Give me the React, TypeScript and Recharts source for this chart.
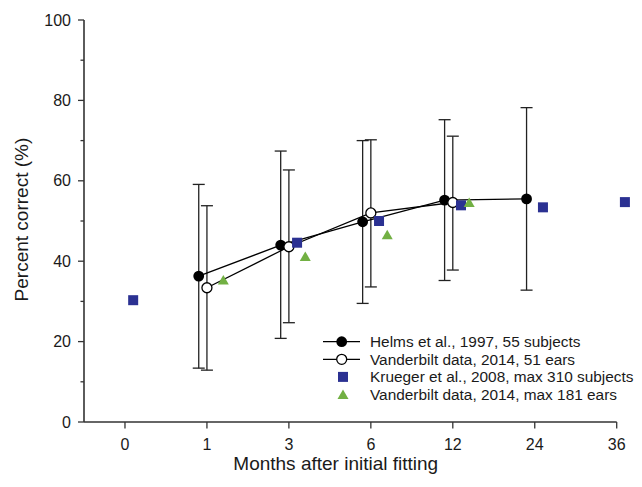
import { ScatterChart, Scatter, XAxis, YAxis, ErrorBar, Legend, Label, ReferenceLine } from 'recharts'

const monthLabels = ['0', '1', '3', '6', '12', '24', '36']

// Helms et al., 1997 (index into monthLabels)
const helmsIdx = [1, 2, 3, 4, 5]
const helmsMean = [36.3, 44.0, 49.8, 55.2, 55.5]
const helmsLow = [13.4, 20.8, 29.5, 35.2, 32.8]
const helmsHigh = [59.1, 67.4, 70.0, 75.2, 78.2]

// Vanderbilt 2014, 51 ears
const vandIdx = [1, 2, 3, 4]
const vandMean = [33.4, 43.6, 52.0, 54.6]
const vandLow = [12.9, 24.7, 33.6, 37.8]
const vandHigh = [53.8, 62.7, 70.2, 71.1]

// Krueger et al., 2008
const kruegerIdx = [0, 2, 3, 4, 5, 6]
const kruegerMean = [30.3, 44.6, 50.0, 53.9, 53.4, 54.7]

// Vanderbilt 2014, max 181 ears
const vandMaxIdx = [1, 2, 3, 4]
const vandMaxMean = [35.3, 41.2, 46.6, 54.6]

const FONT = '"Liberation Sans", Arial, Helvetica, sans-serif'
const TEXT = '#1a1a1a'
const AXIS = '#333'
const NAVY = '#2B3192'
const GREEN = '#72B043'

const withErr = (idx: number[], mean: number[], low: number[], high: number[], shift: number) =>
  idx.map((i, k) => ({ x: i + shift, y: mean[k], err: [mean[k] - low[k], high[k] - mean[k]] }))
const plain = (idx: number[], mean: number[], shift: number) =>
  idx.map((i, k) => ({ x: i + shift, y: mean[k] }))

const helmsData = withErr(helmsIdx, helmsMean, helmsLow, helmsHigh, -0.1)
const vandData = withErr(vandIdx, vandMean, vandLow, vandHigh, 0)
const kruegerData = plain(kruegerIdx, kruegerMean, 0.1)
const vandMaxData = plain(vandMaxIdx, vandMaxMean, 0.2)

const FilledCircle = (p: any) => <circle cx={p.cx} cy={p.cy} r={5.4} fill="#000" />
const OpenCircle = (p: any) => <circle cx={p.cx} cy={p.cy} r={5} fill="#fff" stroke="#000" strokeWidth={1.3} />
const Square = (p: any) => <rect x={p.cx - 5} y={p.cy - 5} width={10} height={10} fill={NAVY} />
const Triangle = (p: any) => (
  <polygon points={`${p.cx - 5.5},${p.cy + 4.5} ${p.cx + 5.5},${p.cy + 4.5} ${p.cx},${p.cy - 5}`} fill={GREEN} />
)

const YTick = (props: any) => {
  const { x, y, payload } = props
  const major = payload.value % 20 === 0
  return (
    <g>
      <line x1={x - (major ? 6 : 3.5)} x2={x} y1={y} y2={y} stroke={AXIS} strokeWidth={1.3} />
      {major && (
        <text x={x - 13} y={y} dy={5.5} textAnchor="end" fontSize={16} fill={TEXT} fontFamily={FONT}>
          {payload.value}
        </text>
      )}
    </g>
  )
}

const XTick = (props: any) => {
  const { x, y, payload } = props
  return (
    <g>
      <line x1={x} x2={x} y1={y} y2={y + 6.5} stroke={AXIS} strokeWidth={1.3} />
      <text x={x} y={y + 28} textAnchor="middle" fontSize={16} fill={TEXT} fontFamily={FONT}>
        {monthLabels[payload.value]}
      </text>
    </g>
  )
}

const legendRows = [
  { name: 'Helms et al., 1997, 55 subjects', kind: 'filled' },
  { name: 'Vanderbilt data, 2014, 51 ears', kind: 'open' },
  { name: 'Krueger et al., 2008, max 310 subjects', kind: 'square' },
  { name: 'Vanderbilt data, 2014, max 181 ears', kind: 'triangle' },
]

const LegendBox = () => (
  <svg width={290} height={80} style={{ display: 'block', overflow: 'visible' }}>
    {legendRows.map((r, i) => {
      const cy = 10.7 + i * 17.6
      let icon = null
      if (r.kind === 'filled')
        icon = (
          <g>
            <line x1={2} x2={39} y1={cy} y2={cy} stroke="#000" strokeWidth={1.3} />
            <FilledCircle cx={20.7} cy={cy} />
          </g>
        )
      else if (r.kind === 'open')
        icon = (
          <g>
            <line x1={2} x2={39} y1={cy} y2={cy} stroke="#000" strokeWidth={1.3} />
            <OpenCircle cx={20.7} cy={cy} />
          </g>
        )
      else if (r.kind === 'square') icon = <Square cx={22} cy={cy} />
      else icon = <Triangle cx={22} cy={cy} />
      return (
        <g key={r.name}>
          {icon}
          <text x={49} y={cy + 5.4} fontSize={15.4} fill={TEXT} fontFamily={FONT}>
            {r.name}
          </text>
        </g>
      )
    })}
  </svg>
)

export default function App() {
  return (
    <div style={{ width: 626, height: 466, overflow: 'hidden' }}>
      <ScatterChart width={626} height={466} margin={{ top: 12, right: 0.9, left: 0, bottom: 0 }}>
        <XAxis
          type="number"
          dataKey="x"
          domain={[-0.5, 6.2]}
          ticks={[0, 1, 2, 3, 4, 5, 6]}
          height={52}
          tickSize={0}
          tickMargin={0}
          tick={<XTick />}
          axisLine={false}
        >
          <Label
            content={(p: any) => (
              <text
                x={76 + 266.35 - 14.6}
                y={p.viewBox.y + 48}
                textAnchor="middle"
                fontSize={19}
                fill={TEXT}
                fontFamily={FONT}
              >
                Months after initial fitting
              </text>
            )}
          />
        </XAxis>
        <YAxis
          type="number"
          dataKey="y"
          domain={[0, 100]}
          ticks={[0, 10, 20, 30, 40, 50, 60, 70, 80, 90, 100]}
          width={76}
          tickSize={0}
          tickMargin={0}
          tick={<YTick />}
          axisLine={{ stroke: AXIS, strokeWidth: 1.6 }}
        >
          <Label
            content={(p: any) => {
              const cx = 19.6
              const cy = p.viewBox.y + p.viewBox.height / 2 - 1.4
              return (
                <text
                  x={cx}
                  y={cy}
                  transform={`rotate(-90, ${cx}, ${cy})`}
                  textAnchor="middle"
                  fontSize={19}
                  fill={TEXT}
                  fontFamily={FONT}
                >
                  Percent correct (%)
                </text>
              )
            }}
          />
        </YAxis>
        <ReferenceLine
          segment={[
            { x: -0.5, y: 0 },
            { x: 6, y: 0 },
          ]}
          stroke={AXIS}
          strokeWidth={1.6}
        />
        <Legend
          layout="horizontal"
          verticalAlign="middle"
          content={<LegendBox />}
          wrapperStyle={{ position: 'absolute', left: 313, top: 323, width: 300, height: 80 }}
        />
        <Scatter
          name="Helms et al., 1997, 55 subjects"
          data={helmsData}
          fill="#000"
          line={{ stroke: '#000', strokeWidth: 1.3 }}
          shape={FilledCircle}
          isAnimationActive={false}
        >
          <ErrorBar dataKey="err" direction="y" width={6} stroke="#222" strokeWidth={1.3} isAnimationActive={false} />
        </Scatter>
        <Scatter
          name="Vanderbilt data, 2014, 51 ears"
          data={vandData}
          fill="#fff"
          line={{ stroke: '#000', strokeWidth: 1.3 }}
          shape={OpenCircle}
          isAnimationActive={false}
        >
          <ErrorBar dataKey="err" direction="y" width={6} stroke="#222" strokeWidth={1.3} isAnimationActive={false} />
        </Scatter>
        <Scatter
          name="Krueger et al., 2008, max 310 subjects"
          data={kruegerData}
          fill={NAVY}
          shape={Square}
          isAnimationActive={false}
        />
        <Scatter
          name="Vanderbilt data, 2014, max 181 ears"
          data={vandMaxData}
          fill={GREEN}
          shape={Triangle}
          isAnimationActive={false}
        />
      </ScatterChart>
    </div>
  )
}
